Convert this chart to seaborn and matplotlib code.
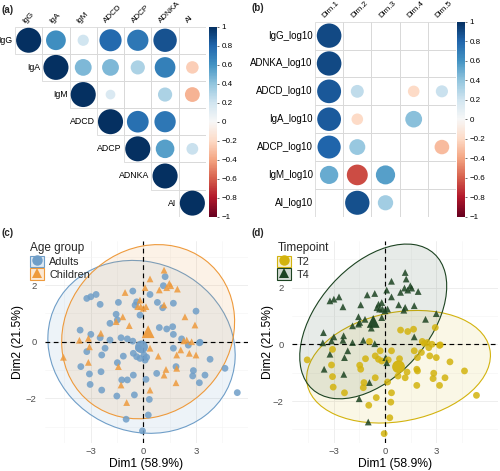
import numpy as np
import pandas as pd
import matplotlib
matplotlib.use("Agg")
import matplotlib.pyplot as plt
import seaborn as sns
from matplotlib.patches import Circle, Ellipse, Rectangle, Patch
from matplotlib.lines import Line2D
from matplotlib.colors import Normalize, to_rgba
from matplotlib.cm import ScalarMappable

# ---------------- data ----------------
nan = np.nan
# (a) correlation among antibody features (upper triangle, blank = not significant)
a_vars = ["IgG", "IgA", "IgM", "ADCD", "ADCP", "ADNKA", "AI"]
a_IgG = [1.00, 0.62, 0.20, 0.78, 0.72, 0.87, nan]
a_IgA = [nan, 1.00, 0.45, 0.45, 0.32, 0.68, -0.25]
a_IgM = [nan, nan, 1.00, 0.15, nan, 0.32, -0.35]
a_ADCD = [nan, nan, nan, 1.00, 0.75, 0.72, nan]
a_ADCP = [nan, nan, nan, nan, 1.00, 0.55, 0.22]
a_ADNKA = [nan, nan, nan, nan, nan, 1.00, nan]
a_AI = [nan, nan, nan, nan, nan, nan, 1.00]

# (b) correlation of variables with PCA dimensions
b_rows = ["IgG_log10", "ADNKA_log10", "ADCD_log10", "IgA_log10",
          "ADCP_log10", "IgM_log10", "AI_log10"]
b_cols = ["Dim.1", "Dim.2", "Dim.3", "Dim.4", "Dim.5"]
b_dim1 = [0.90, 0.90, 0.85, 0.84, 0.80, 0.50, nan]
b_dim2 = [nan, nan, 0.25, -0.20, 0.38, -0.65, 0.88]
b_dim3 = [nan, nan, nan, nan, nan, 0.55, 0.35]
b_dim4 = [nan, nan, -0.20, 0.42, nan, nan, nan]
b_dim5 = [nan, nan, 0.22, nan, -0.32, nan, nan]

cbar_ticks = [-1, -0.8, -0.6, -0.4, -0.2, 0, 0.2, 0.4, 0.6, 0.8, 1]
cbar_labels = ["\u22121", "\u22120.8", "\u22120.6", "\u22120.4", "\u22120.2", "0",
               "0.2", "0.4", "0.6", "0.8", "1"]

# (c)/(d) PCA individuals
adult_dim1 = [-3.22, -2.99, -2.69, -2.46, -1.42, -0.60, -1.55, -1.90, -1.48, -3.60,
              -2.99, -2.46, -1.90, -1.27, -0.91, -0.60, -0.19, -0.38, 1.24, 1.14,
              0.38, 0.80, 1.10, 1.71, 3.00, 0.91, 1.33, 1.67, 1.71, 2.18,
              3.23, -3.22, -2.18, -2.37, -3.56, -3.07, -2.41, -3.03, -2.37, -1.48,
              -1.14, -0.57, -0.38, -0.19, -0.57, -1.23, -0.91, -1.51, -0.51, -0.98,
              -0.28, 1.71, 2.56, 3.19, 0.04, 0.19, 0.10, 3.80, 0.76, 1.86,
              2.85, 2.81, 3.51, 3.19, 4.65, 0.15, 0.34, 0.28, 5.35, -0.05,
              -0.47]
adult_dim2 = [1.53, 1.59, 1.67, 1.32, 1.39, 1.79, 0.97, 0.65, 0.77, 0.41,
              0.26, 0.14, 0.06, 0.14, 0.10, 0.02, 0.94, 1.41, 2.30, 1.98,
              1.67, 1.39, 1.20, 1.36, 1.08, 0.50, 0.45, 0.53, 0.26, 0.10,
              -0.02, -0.35, -0.23, -0.47, -0.88, -1.14, -1.06, -1.51, -1.71, -0.74,
              -0.51, -0.41, -0.53, -0.59, -1.18, -1.35, -1.35, -1.92, -1.88, -2.74,
              -0.23, -0.23, -0.12, -0.04, -0.47, -0.55, -0.65, -0.62, -1.12, -0.88,
              -1.02, -1.21, -1.18, -1.45, -0.94, -1.33, -2.04, -2.59, -1.80, -3.15,
              1.29]
adult_time = ["T4", "T4", "T4", "T4", "T4", "T4", "T4", "T4", "T4", "T4",
              "T4", "T4", "T4", "T4", "T2", "T4", "T4", "T4", "T4", "T4",
              "T4", "T4", "T4", "T4", "T4", "T2", "T2", "T2", "T4", "T2",
              "T2", "T4", "T4", "T4", "T4", "T2", "T4", "T2", "T2", "T2",
              "T2", "T2", "T2", "T2", "T2", "T2", "T4", "T4", "T2", "T4",
              "T2", "T2", "T2", "T2", "T4", "T2", "T4", "T2", "T2", "T2",
              "T2", "T2", "T2", "T2", "T2", "T2", "T2", "T2", "T2", "T2",
              "T4"]
child_dim1 = [1.18, 0.38, 0.10, 1.48, 1.33, 1.56, 1.94, 0.91, 0.15, 0.00,
              1.18, 2.37, 2.94, 2.47, 2.75, -1.04, -0.19, -0.32, -0.15, -1.17,
              -1.55, -0.80, -2.42, -3.64, -3.13, -3.07, -4.55, -3.13, -1.42, -1.27,
              -0.95, 0.38, 0.85, 1.90, 2.13, 2.62, 3.00, 1.29, 1.18, 1.90,
              1.86, 0.38, 2.30]
child_dim2 = [2.53, 2.22, 1.91, 2.06, 1.91, 1.98, 1.86, 1.83, 1.24, 1.18,
              1.30, 0.88, 0.59, 0.06, 0.00, 1.74, 1.47, 1.24, 1.24, 0.88,
              0.71, 0.57, 0.30, 0.05, 0.12, -0.18, -0.55, -0.73, -0.88, -1.53,
              -2.15, -0.23, -0.51, -0.47, -0.29, -0.41, -0.47, -0.98, -1.18, -0.94,
              -1.45, -1.71, 0.03]
child_time = ["T4", "T4", "T4", "T4", "T4", "T4", "T4", "T4", "T4", "T4",
              "T4", "T4", "T2", "T2", "T2", "T4", "T4", "T4", "T4", "T4",
              "T4", "T4", "T4", "T4", "T4", "T2", "T2", "T2", "T2", "T2",
              "T2", "T2", "T2", "T2", "T2", "T2", "T2", "T2", "T2", "T2",
              "T2", "T2", "T2"]

age_levels = ["Adults", "Children"]
time_levels = ["T2", "T4"]
xlab = "Dim1 (58.9%)"
ylab = "Dim2 (21.5%)"

df = pd.DataFrame({
    "Dim1": adult_dim1 + child_dim1,
    "Dim2": adult_dim2 + child_dim2,
    "Age group": ["Adults"] * len(adult_dim1) + ["Children"] * len(child_dim1),
    "Timepoint": adult_time + child_time,
})

# ---------------- style ----------------
sns.set_theme(style="white")
plt.rcParams["font.family"] = ["Liberation Sans", "DejaVu Sans"]

W, H = 500, 471
fig = plt.figure(figsize=(W / 100, H / 100), dpi=100)


def ax_px(x0, y0, x1, y1):
    return fig.add_axes([x0 / W, 1 - y1 / H, (x1 - x0) / W, (y1 - y0) / H])


cmap = plt.get_cmap("RdBu")
norm = Normalize(-1, 1)


def corrplot(ax, mat, rows, cols, upper, row_diag, fs, cfs):
    nr, nc = mat.shape
    ax.set_xlim(-0.5, nc - 0.5)
    ax.set_ylim(nr - 0.5, -0.5)
    ax.axis("off")
    for i in range(nr):
        for j in range(nc):
            if upper and j < i:
                continue
            ax.add_patch(Rectangle((j - 0.5, i - 0.5), 1, 1, fill=False,
                                   ec="#D9D9D9", lw=0.6, zorder=1))
            v = mat[i, j]
            if np.isnan(v):
                continue
            ax.add_patch(Circle((j, i), 0.46 * np.sqrt(abs(v)),
                                fc=cmap(norm(v)), ec="none", zorder=2))
    for i, r in enumerate(rows):
        xpos = (i if row_diag else 0) - 0.58
        ax.text(xpos, i, r, ha="right", va="center", fontsize=fs, color="black")
    for j, c in enumerate(cols):
        ax.text(j - 0.1, -0.58, c, ha="left", va="bottom", rotation=45,
                rotation_mode="anchor", fontsize=cfs, color="black")


def colorbar(cax):
    cb = fig.colorbar(ScalarMappable(norm=norm, cmap=cmap), cax=cax, ticks=cbar_ticks)
    cb.outline.set_visible(False)
    cb.ax.tick_params(labelsize=5.8, length=1.5, width=0.4, pad=2, colors="black")
    cb.ax.set_yticklabels(cbar_labels)


# (a)
mat_a = np.array([a_IgG, a_IgA, a_IgM, a_ADCD, a_ADCP, a_ADNKA, a_AI])
ax_a = ax_px(15, 26.7, 206, 216.7)
corrplot(ax_a, mat_a, a_vars, a_vars, upper=True, row_diag=True, fs=6.3, cfs=5.9)
colorbar(ax_px(209, 26.7, 217, 216.7))

# (b)
mat_b = np.array([b_dim1, b_dim2, b_dim3, b_dim4, b_dim5]).T
ax_b = ax_px(315, 21.7, 456, 216.7)
corrplot(ax_b, mat_b, b_rows, b_cols, upper=False, row_diag=False, fs=7, cfs=5.9)
colorbar(ax_px(456.5, 21.7, 464.5, 216.7))

fig.text(2 / W, 1 - 10 / H, "(a)", fontsize=7, fontweight="bold", va="center")
fig.text(252 / W, 1 - 8 / H, "(b)", fontsize=7, fontweight="bold", va="center")
fig.text(2 / W, 1 - 233 / H, "(c)", fontsize=7, fontweight="bold", va="center")
fig.text(252 / W, 1 - 233 / H, "(d)", fontsize=7, fontweight="bold", va="center")


def ell_scale(n, p=0.95):
    d2 = n - 1
    f = d2 / 2.0 * ((1 - p) ** (-2.0 / d2) - 1)
    return np.sqrt(2 * f)


def add_ellipse(ax, x, y, color, alpha):
    x = np.asarray(x); y = np.asarray(y)
    cov = np.cov(x, y)
    vals, vecs = np.linalg.eigh(cov)
    k = ell_scale(len(x))
    angle = np.degrees(np.arctan2(vecs[1, 1], vecs[0, 1]))
    e = Ellipse((x.mean(), y.mean()), 2 * k * np.sqrt(vals[1]), 2 * k * np.sqrt(vals[0]),
                angle=angle, fc=to_rgba(color, alpha), ec=color, lw=0.8, zorder=1)
    ax.add_patch(e)


def pca_panel(ax, col, levels, palette, markers, alphas, xlim, ylim, leg_anchor, ylab_x):
    for lev in levels:
        sub = df[df[col] == lev]
        add_ellipse(ax, sub["Dim1"], sub["Dim2"], palette[lev], alphas[lev])
    ax.axhline(0, ls=(0, (4, 3)), color="black", lw=0.85, zorder=2)
    ax.axvline(0, ls=(0, (4, 3)), color="black", lw=0.85, zorder=2)
    sns.scatterplot(data=df, x="Dim1", y="Dim2", hue=col, style=col,
                    hue_order=levels, style_order=levels, palette=palette,
                    markers=markers, s=24, linewidth=0, alpha=0.85, ax=ax,
                    legend=False, zorder=3)
    cent = df.groupby(col, as_index=False)[["Dim1", "Dim2"]].mean()
    sns.scatterplot(data=cent, x="Dim1", y="Dim2", hue=col, style=col,
                    hue_order=levels, style_order=levels, palette=palette,
                    markers=markers, s=85, linewidth=0, alpha=0.95, ax=ax,
                    legend=False, zorder=4)
    ax.set_xlim(*xlim)
    ax.set_ylim(*ylim)
    ax.set_xticks([-3, 0, 3])
    ax.set_yticks([-2, 0, 2])
    ax.set_xticks([-4.5, -1.5, 1.5, 4.5], minor=True)
    ax.set_yticks([-3, -1, 1, 3], minor=True)
    ax.grid(which="major", color="#EBEBEB", lw=0.6)
    ax.grid(which="minor", color="#F3F3F3", lw=0.4)
    ax.set_axisbelow(True)
    for s in ax.spines.values():
        s.set_visible(False)
    ax.tick_params(which="both", length=0, labelsize=6.8, labelcolor="#4D4D4D")
    ax.tick_params(axis="x", pad=3)
    ax.tick_params(axis="y", pad=6)
    ax.set_xticklabels(["\u22123", "0", "3"])
    ax.set_yticklabels(["\u22122", "0", "2"])
    ax.set_xlabel(xlab, fontsize=8.7, color="black")
    ax.set_ylabel(ylab, fontsize=8.7, color="black")
    ax.xaxis.set_label_coords(0.5, -0.075)
    ax.yaxis.set_label_coords(ylab_x, 0.5)
    handles = [(Patch(fc=to_rgba(palette[l], alphas[l] + 0.1), ec=palette[l], lw=0.8),
                Line2D([], [], marker=markers[l], color=palette[l], ls="", markersize=7.5,
                       markeredgewidth=0))
               for l in levels]
    leg = ax.legend(handles, levels, title=col, loc="upper left",
                    bbox_to_anchor=leg_anchor, frameon=False, fontsize=7.8,
                    title_fontsize=8.5, handlelength=1.25, handleheight=1.25,
                    labelspacing=0.12, borderpad=0, handletextpad=0.5,
                    alignment="left")
    leg.set_zorder(10)


# (c)
ax_c = ax_px(45, 241, 248, 443)
pca_panel(ax_c, "Age group", age_levels,
          {"Adults": "#6F9EC8", "Children": "#EE9A3C"},
          {"Adults": "o", "Children": "^"},
          {"Adults": 0.12, "Children": 0.12},
          (-5.6, 5.96), (-3.58, 3.56), ((25 - 45) / 203, (443 - 237) / 202), -0.103)

# (d)
ax_d = ax_px(292, 241, 498, 443)
pca_panel(ax_d, "Timepoint", time_levels,
          {"T2": "#D3B30E", "T4": "#1C4321"},
          {"T2": "o", "T4": "^"},
          {"T2": 0.10, "T4": 0.10},
          (-5.44, 6.61), (-3.48, 3.64), ((272 - 292) / 206, (443 - 237) / 202), -0.087)

fig.savefig("out.png", dpi=100)
